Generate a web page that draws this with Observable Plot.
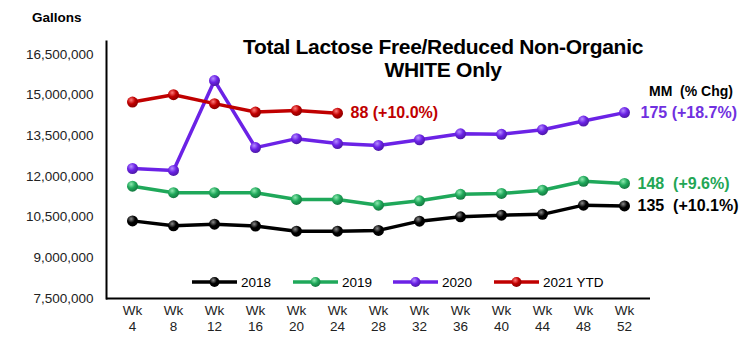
<!DOCTYPE html>
<html><head><meta charset="utf-8">
<script src="https://cdn.jsdelivr.net/npm/d3@7"></script>
<script src="https://cdn.jsdelivr.net/npm/@observablehq/plot@0.6"></script>
<style>
body{margin:0;background:#fff}
#chart{position:relative;width:749px;height:356px}
#defs{position:absolute;width:0;height:0;overflow:hidden}
</style>
</head><body>
<svg id="defs" width="0" height="0"><defs id="gdefs"></defs></svg>
<div id="chart"></div>
<script>
const weeks = [4, 8, 12, 16, 20, 24, 28, 32, 36, 40, 44, 48, 52];
const seriesNames = ["2018", "2019", "2020", "2021 YTD"];
const s2018 = [10360000, 10180000, 10240000, 10170000, 9980000, 9980000, 10010000, 10350000, 10510000, 10570000, 10600000, 10940000, 10910000];
const s2019 = [11640000, 11400000, 11400000, 11400000, 11150000, 11150000, 10940000, 11100000, 11340000, 11370000, 11490000, 11820000, 11740000];
const s2020 = [12290000, 12220000, 15530000, 13060000, 13390000, 13210000, 13140000, 13350000, 13570000, 13550000, 13720000, 14040000, 14350000];
const s2021 = [14740000, 15010000, 14680000, 14370000, 14430000, 14330000];
const endLabels = ["135  (+10.1%)", "148  (+9.6%)", "175 (+18.7%)", "88 (+10.0%)"];
const yTicks = [7500000, 9000000, 10500000, 12000000, 13500000, 15000000, 16500000];
const titleLines = ["Total Lactose Free/Reduced Non-Organic", "WHITE Only"];
const yLabel = "Gallons";
const endHeader = "MM  (% Chg)";

const lineColors = ["#000000", "#1fa85a", "#6b22e6", "#c00000"];
const textColors = ["#000000", "#22a655", "#7030e0", "#c00000"];
const hiColors = ["#8a8a8a", "#8ee8b0", "#b58cff", "#ff7a7a"];
const allSeries = [s2018, s2019, s2020, s2021];

// gradients for 3D-looking markers
const gdefs = d3.select("#gdefs");
lineColors.forEach((c, i) => {
  const g = gdefs.append("radialGradient").attr("id", "g" + i)
    .attr("cx", "38%").attr("cy", "32%").attr("r", "65%");
  g.append("stop").attr("offset", "0%").attr("stop-color", hiColors[i]);
  g.append("stop").attr("offset", "55%").attr("stop-color", lineColors[i]);
  g.append("stop").attr("offset", "100%").attr("stop-color", d3.color(lineColors[i]).darker(0.8).formatHex());
});

const rows = allSeries.map((vals, i) => vals.map((v, j) => ({week: weeks[j], value: v, series: seriesNames[i], idx: i})));

const marks = [
  Plot.ruleY([yTicks[0]], {stroke: "#000", strokeWidth: 2}),
  Plot.frame({anchor: "left", stroke: "#000", strokeWidth: 2}),
  Plot.axisY({ticks: yTicks, tickSize: 0, tickPadding: 13, tickFormat: d3.format(","), fontSize: 13.5, fill: "#222", label: null}),
  Plot.axisX({tickSize: 0, tickPadding: 5, tickFormat: d => `Wk\n${d}`, fontSize: 13.5, lineHeight: 1.2, fill: "#222", label: null})
];
rows.forEach((r, i) => {
  marks.push(Plot.line(r, {x: "week", y: "value", stroke: lineColors[i], strokeWidth: 3.5}));
});
rows.forEach((r, i) => {
  marks.push(Plot.dot(r, {x: "week", y: "value", r: 5.5, fill: `url(#g${i})`, stroke: "none"}));
});
rows.forEach((r, i) => {
  const last = r[r.length - 1];
  marks.push(Plot.text([last], {x: "week", y: "value", text: () => endLabels[i], fill: textColors[i],
    dx: i === 2 ? 16 : 13, textAnchor: "start", fontSize: 16, fontWeight: "bold"}));
});

const chart = Plot.plot({
  width: 749, height: 356,
  marginLeft: 106, marginRight: 99, marginTop: 41, marginBottom: 58,
  style: {fontFamily: "'Liberation Sans', Arial, sans-serif", fontSize: "13px", color: "#000", background: "#fff"},
  x: {type: "point", domain: weeks, padding: 0.5, axis: null},
  y: {domain: [7500000, 16970000], axis: null},
  marks
});
document.getElementById("chart").appendChild(chart);

const svg = d3.select(chart);
const ff = "'Liberation Sans', Arial, sans-serif";
// title
svg.append("text").attr("x", 443).attr("y", 54).attr("text-anchor", "middle")
  .attr("font-family", ff).attr("font-size", 21).attr("font-weight", "bold").attr("letter-spacing", -0.3)
  .attr("fill", "#000").text(titleLines[0]);
svg.append("text").attr("x", 443).attr("y", 77).attr("text-anchor", "middle")
  .attr("font-family", ff).attr("font-size", 21).attr("font-weight", "bold").attr("letter-spacing", -0.3)
  .attr("fill", "#000").text(titleLines[1]);
// y label
svg.append("text").attr("x", 32).attr("y", 22).attr("text-anchor", "start").attr("font-family", ff).attr("font-size", 13.5)
  .attr("font-weight", "bold").attr("fill", "#000").text(yLabel);
// end header
svg.append("text").attr("x", 649).attr("y", 96).attr("text-anchor", "start").attr("font-family", ff).attr("font-size", 14)
  .attr("font-weight", "bold").attr("fill", "#000").style("white-space", "pre").text(endHeader);
// legend
const legX = [192, 293, 393, 494];
seriesNames.forEach((name, i) => {
  const g = svg.append("g");
  const x0 = legX[i], y0 = 282;
  g.append("line").attr("x1", x0).attr("x2", x0 + 45).attr("y1", y0).attr("y2", y0)
    .attr("stroke", lineColors[i]).attr("stroke-width", 3.5);
  g.append("circle").attr("cx", x0 + 22.5).attr("cy", y0).attr("r", 5).attr("fill", `url(#g${i})`);
  g.append("text").attr("x", x0 + 49).attr("y", y0 + 4.7).attr("text-anchor", "start").attr("font-family", ff).attr("font-size", 13.5)
    .attr("fill", "#000").text(name);
});
</script>
</body></html>
